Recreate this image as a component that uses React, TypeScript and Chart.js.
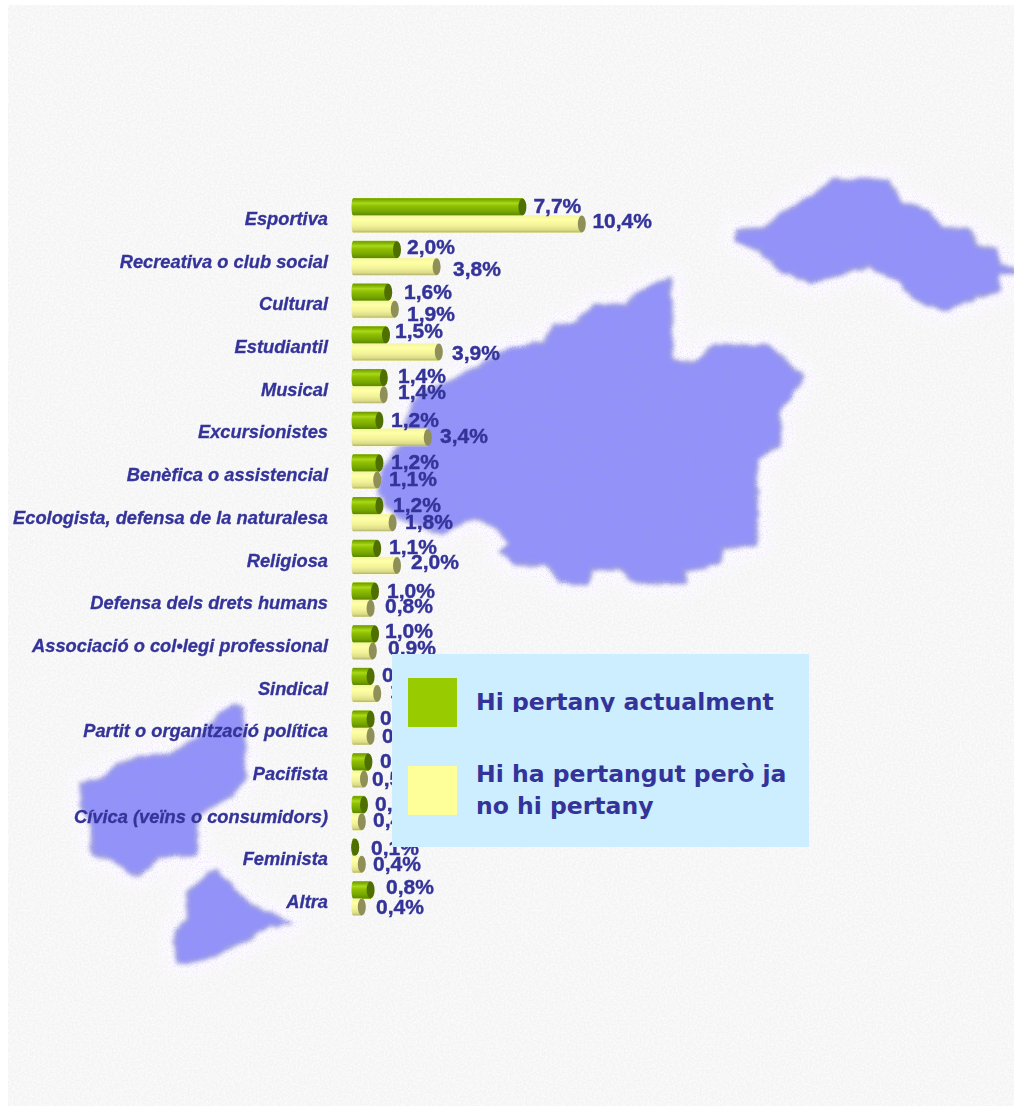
import React, { useEffect, useRef } from "react";
import { Chart, registerables } from "chart.js";

Chart.register(...registerables);

const categories = [
  "Esportiva", "Recreativa o club social", "Cultural", "Estudiantil", "Musical", "Excursionistes",
  "Benèfica o assistencial", "Ecologista, defensa de la naturalesa", "Religiosa", "Defensa dels drets humans",
  "Associació o col•legi professional", "Sindical", "Partit o organització política", "Pacifista",
  "Cívica (veïns o consumidors)", "Feminista", "Altra",
];
const seriesNames = ["Hi pertany actualment", "Hi ha pertangut però ja no hi pertany"];
const current = [7.7, 2.0, 1.6, 1.5, 1.4, 1.2, 1.2, 1.2, 1.1, 1.0, 1.0, 0.8, 0.8, 0.7, 0.5, 0.1, 0.8];
const former = [10.4, 3.8, 1.9, 3.9, 1.4, 3.4, 1.1, 1.8, 2.0, 0.8, 0.9, 1.1, 0.8, 0.5, 0.4, 0.4, 0.4];

// hand-placed value label nudges of the original, relative to each bar's end
const currentNudgeX = [11, 10, 15.8, 9, 14.2, 11.6, 11.6, 13.6, 11.8, 12, 10, 11.4, 9.4, 11.6, 11, 15.8, 15.4];
const currentNudgeY = [0.5, -1, 1, -2.6, -0.3, 1, 0.3, 0.6, -0.1, 1.2, -1.5, -0.2, 0.1, 0.4, 0.7, 2, -1.7];
const formerNudgeX = [10.6, 16.4, 12.2, 13.2, 14.2, 12.2, 11.8, 12.4, 14, 14.4, 15.2, 12.8, 11.4, 8, 11.2, 11.2, 14.2];
const formerNudgeY = [-1.5, 3.8, 6.1, 2.4, -1.3, 0, 0.3, 0.6, -2.1, -0.8, -1.5, -1.2, 1.1, 1.4, -0.3, 1, 1.3];

const INK = "#333399";
const GREEN = "#99cc00";
const YELLOW = "#ffff99";

const greenStops: [number, string][] = [[0, "#6a9a00"], [0.12, "#86b400"], [0.28, "#a9d81c"], [0.45, "#90c000"], [0.75, "#78a800"], [1, "#5c8800"]];
const yellowStops: [number, string][] = [[0, "#f4f4a4"], [0.25, "#ffffa6"], [0.6, "#f2f298"], [0.85, "#dcdc8a"], [1, "#b4b46e"]];

const cylinders = {
  id: "cylinders",
  afterDatasetsDraw(chart: any) {
    const ctx = chart.ctx;
    chart.data.datasets.forEach((_: any, di: number) => {
      const stops = di === 0 ? greenStops : yellowStops;
      const capColor = di === 0 ? "#4f7000" : "#8f8f58";
      chart.getDatasetMeta(di).data.forEach((el: any) => {
        const top = el.y - el.height / 2;
        const bottom = el.y + el.height / 2;
        const g = ctx.createLinearGradient(0, top, 0, bottom);
        stops.forEach(([o, c]) => g.addColorStop(o, c));
        ctx.save();
        ctx.fillStyle = g;
        ctx.beginPath();
        ctx.ellipse(el.base, el.y, 1.5, el.height / 2, 0, Math.PI / 2, (Math.PI * 3) / 2);
        ctx.lineTo(el.x, top);
        ctx.lineTo(el.x, bottom);
        ctx.closePath();
        ctx.fill();
        ctx.fillStyle = capColor;
        ctx.beginPath();
        ctx.ellipse(el.x, el.y, 4, el.height / 2, 0, 0, Math.PI * 2);
        ctx.fill();
        ctx.restore();
      });
    });
  },
};

const valueLabels = {
  id: "valueLabels",
  afterDraw(chart: any) {
    const ctx = chart.ctx;
    ctx.save();
    ctx.font = 'bold 21px "Liberation Sans"';
    ctx.fillStyle = INK;
    ctx.strokeStyle = INK;
    ctx.lineWidth = 0.4;
    ctx.textAlign = "left";
    ctx.textBaseline = "middle";
    chart.data.datasets.forEach((ds: any, di: number) => {
      const nx = di === 0 ? currentNudgeX : formerNudgeX;
      const ny = di === 0 ? currentNudgeY : formerNudgeY;
      chart.getDatasetMeta(di).data.forEach((el: any, i: number) => {
        const text = ds.data[i].toFixed(1).replace(".", ",") + "%";
        ctx.fillText(text, el.x + nx[i], el.y + ny[i]);
        ctx.strokeText(text, el.x + nx[i], el.y + ny[i]);
      });
    });
    ctx.restore();
  },
};

const mapShapes = [
  "670,278 672,360 693,363 715,345 767,345 804,377 791,398 780,410 780,445 757,458 757,545 723,548 719,563 685,570 685,583 640,583 617,567 590,570 589,583 560,583 545,565 513,563 500,552 509,543 496,527 473,517 443,533 433,530 397,517 378,493 383,470 400,447 413,403 423,393 453,380 477,367 511,347 545,342 553,327 579,322 594,305 625,305 647,287",
  "736,230 765,228 791,208 818,193 833,180 888,180 901,203 928,210 943,228 971,230 977,247 996,250 1000,265 1014,268 1014,273 998,273 1000,290 969,300 945,310 916,300 901,283 867,265 833,277 814,283 784,272 761,250 736,242",
  "233,705 243,708 245,780 230,797 207,807 197,817 197,855 160,857 140,875 127,870 110,857 92,855 92,823 82,807 82,783 100,780 117,765 140,757 173,753 200,737 220,713",
  "215,870 253,907 292,922 267,927 242,943 217,953 190,963 177,962 175,930 188,920 188,892",
];

function Backdrop() {
  return (
    <svg width={1014} height={1106} style={{ position: "absolute", left: 0, top: 0, display: "block" }}>
      <defs>
        <filter id="soft" x="-10%" y="-10%" width="120%" height="120%">
          <feTurbulence type="fractalNoise" baseFrequency="0.08" numOctaves="2" seed="3" result="n" />
          <feDisplacementMap in="SourceGraphic" in2="n" scale="7" xChannelSelector="R" yChannelSelector="G" result="d" />
          <feGaussianBlur in="d" stdDeviation="1.9" />
        </filter>
        <filter id="halo" x="-20%" y="-20%" width="140%" height="140%"><feGaussianBlur stdDeviation="7" /></filter>
        <filter id="grain" x="0" y="0" width="100%" height="100%">
          <feTurbulence type="fractalNoise" baseFrequency="0.5" numOctaves="2" seed="4" />
          <feColorMatrix type="matrix" values="0 0 0 0 1  0 0 0 0 1  0 0 0 0 1  3 0 0 0 -1.1" />
        </filter>
        <filter id="speck" x="0" y="0" width="100%" height="100%">
          <feTurbulence type="fractalNoise" baseFrequency="0.8" numOctaves="1" seed="9" />
          <feColorMatrix type="matrix" values="0 0 0 0 0.3  0 0 0 0 0.3  0 0 0 0 0.84  9 0 0 0 -4.9" />
        </filter>
        <filter id="shoreSpeck" x="0" y="0" width="100%" height="100%">
          <feTurbulence type="fractalNoise" baseFrequency="0.8" numOctaves="1" seed="21" />
          <feColorMatrix type="matrix" values="0 0 0 0 0.88  0 0 0 0 0.76  0 0 0 0 1  9 0 0 0 -4.9" />
        </filter>
        <mask id="shore">
          <g filter="url(#halo)">
            {mapShapes.map((p, i) => <polygon key={i} points={p} fill="#fff" stroke="#fff" strokeWidth={26} strokeLinejoin="round" />)}
          </g>
        </mask>
        <clipPath id="land">
          {mapShapes.map((p, i) => <polygon key={i} points={p} />)}
        </clipPath>
      </defs>
      <rect x={0} y={0} width={1014} height={1106} fill="#ffffff" />
      <rect x={8} y={5} width={1006} height={1101} fill="#f4f4f4" />
      <rect x={8} y={5} width={1006} height={1101} filter="url(#grain)" opacity={0.6} />
      <g filter="url(#halo)">
        {mapShapes.map((p, i) => <polygon key={i} points={p} fill="#fcfcff" stroke="#fcfcff" strokeWidth={26} strokeLinejoin="round" />)}
      </g>
      <g mask="url(#shore)">
        <rect x={0} y={0} width={1014} height={1106} filter="url(#shoreSpeck)" />
      </g>
      <g filter="url(#soft)">
        {mapShapes.map((p, i) => <polygon key={i} points={p} fill="#9292fa" stroke="#9f9fdc" strokeWidth={3} strokeLinejoin="round" />)}
      </g>
      <g clipPath="url(#land)">
        <rect x={0} y={0} width={1014} height={1106} filter="url(#speck)" opacity={0.6} />
      </g>
    </svg>
  );
}

const legendBox: React.CSSProperties = {
  position: "absolute", left: 392, top: 654, width: 417, height: 193, background: "#cceeff",
};
const legendText: React.CSSProperties = {
  position: "absolute", left: 84, width: 330, margin: 0, color: INK,
  font: 'bold 23.5px/32px "DejaVu Sans"', overflow: "hidden",
};

export default function App() {
  const ref = useRef<HTMLCanvasElement>(null);
  useEffect(() => {
    const chart = new Chart(ref.current!, {
      type: "bar",
      data: {
        labels: categories,
        datasets: [
          { label: seriesNames[0], data: current, backgroundColor: GREEN, barThickness: 17 },
          { label: seriesNames[1], data: former, backgroundColor: YELLOW, barThickness: 17 },
        ],
      },
      options: {
        indexAxis: "y",
        animation: false,
        responsive: false,
        devicePixelRatio: 1,
        layout: { padding: { left: 0, right: 111, top: 194.1, bottom: 186.1 } },
        plugins: { legend: { display: false }, tooltip: { enabled: false }, title: { display: false } },
        scales: {
          x: { display: false, min: 0, max: 25 },
          y: {
            grid: { display: false },
            border: { display: false },
            afterFit: (s: any) => { s.width = 353; },
            ticks: {
              color: INK,
              padding: 17,
              labelOffset: 4.5,
              autoSkip: false,
              textStrokeColor: INK,
              textStrokeWidth: 0.3,
              font: { family: '"Liberation Sans"', size: 18.3, weight: "bold", style: "italic" },
            },
          },
        },
      } as any,
      plugins: [cylinders, valueLabels],
    });
    return () => chart.destroy();
  }, []);

  return (
    <div style={{ position: "absolute", left: 0, top: 0, width: 1014, height: 1106, overflow: "hidden" }}>
      <Backdrop />
      <canvas ref={ref} width={1014} height={1106} style={{ position: "absolute", left: 0, top: 0, display: "block" }} />
      <div style={legendBox}>
        <div style={{ position: "absolute", left: 16, top: 24, width: 49, height: 49, background: GREEN }} />
        <p style={{ ...legendText, top: 32, height: 26 }}>{seriesNames[0]}</p>
        <div style={{ position: "absolute", left: 16, top: 112, width: 49, height: 49, background: YELLOW }} />
        <p style={{ ...legendText, top: 104 }}>{seriesNames[1]}</p>
      </div>
    </div>
  );
}
